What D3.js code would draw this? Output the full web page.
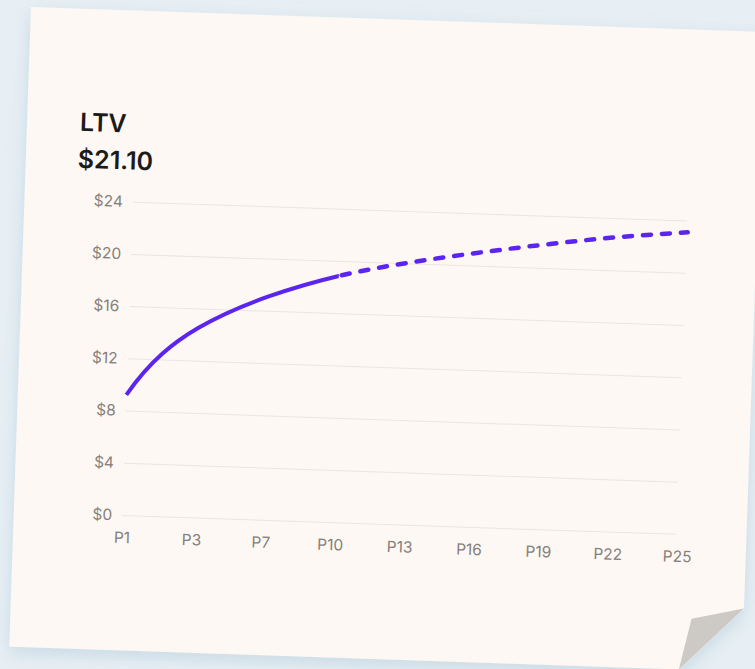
<!DOCTYPE html>
<html>
<head>
<meta charset="utf-8">
<script src="https://cdn.jsdelivr.net/npm/d3@7/dist/d3.min.js"></script>
<style>
  html, body { margin: 0; padding: 0; background: #e7eff4; }
  svg { display: block; }
</style>
</head>
<body>
<svg id="chart" width="755" height="669"></svg>
<script>
// ---- data ----
const categories = ["P1", "P3", "P7", "P10", "P13", "P16", "P19", "P22", "P25"];
const ltvValues = [9.2, 14.5, 17.1, 18.85, 20.05, 21.0, 21.83, 22.55, 23.1];
const actualCount = 4; // P1..P10 actual (solid), rest projected (dashed)
const yTicks = [0, 4, 8, 12, 16, 20, 24];
const titleLabel = "LTV";
const titleValue = "$21.10";

// ---- layout ----
const W = 755, H = 669;
const FONT = "Inter, 'Noto Sans', sans-serif";
const svg = d3.select("#chart");
const defs = svg.append("defs");
const f = defs.append("filter").attr("id", "shadow")
  .attr("x", "-10%").attr("y", "-10%").attr("width", "120%").attr("height", "125%");
f.append("feDropShadow").attr("dx", 0).attr("dy", 6).attr("stdDeviation", 9)
  .attr("flood-color", "#8fb0c8").attr("flood-opacity", 0.35);

svg.append("rect").attr("width", W).attr("height", H).attr("fill", "#e7eff4");

const paperW = 733, paperH = 640;
const g = svg.append("g").attr("transform", "translate(31,7) rotate(1.95)");

g.append("path")
  .attr("d", `M0,0 L${paperW},0 L${paperW},577 L670,${paperH} L0,${paperH} Z`)
  .attr("fill", "#fdf8f4")
  .attr("filter", "url(#shadow)");

g.append("path")
  .attr("d", `M${paperW},577 L681,589 L670,${paperH} Z`)
  .attr("fill", "#cdc9c4");

// ---- scales ----
const x = d3.scalePoint().domain(categories).range([108.5, 664]);
const y = d3.scaleLinear().domain([0, 24]).range([504.6, 191.1]);

// gridlines + y labels
const yAxis = g.append("g")
  .attr("transform", "translate(108.5,0)")
  .call(d3.axisLeft(y).tickValues(yTicks).tickSize(-(663 - 108.5)).tickPadding(10)
    .tickFormat(d => "$" + d));
yAxis.select(".domain").remove();
yAxis.selectAll(".tick line").attr("stroke", "#e9e5e0").attr("stroke-width", 1);
yAxis.selectAll(".tick text")
  .attr("fill", "#85807b")
  .style("font-family", FONT)
  .style("font-size", "15.5px");

// x labels
const xAxis = g.append("g")
  .attr("transform", `translate(0,${y(0)})`)
  .call(d3.axisBottom(x).tickSize(0).tickPadding(17));
xAxis.select(".domain").remove();
xAxis.selectAll(".tick text")
  .attr("fill", "#85807b")
  .style("font-family", FONT)
  .style("font-size", "15.5px");

// ---- smooth clamped cubic spline through the points (scale-mapped) ----
function splinePath(cats, vals, startSlope, endSlope) {
  const px = cats.map(c => x(c)), py = vals.map(v => y(v));
  const n = px.length - 1, h = x.step();
  const k = (y(1) - y(0)) / h; // value-per-step -> pixel slope
  const m = new Array(n + 1).fill(0);
  m[0] = startSlope * k; m[n] = endSlope * k;
  // tridiagonal solve for interior slopes
  const a = [], b = [], c = [], d = [];
  for (let i = 1; i < n; i++) {
    a.push(1); b.push(4); c.push(1);
    let r = 3 * (py[i + 1] - py[i - 1]) / h;
    if (i === 1) r -= m[0];
    if (i === n - 1) r -= m[n];
    d.push(r);
  }
  const N = d.length;
  for (let i = 1; i < N; i++) {
    const w = a[i] / b[i - 1];
    b[i] -= w * c[i - 1]; d[i] -= w * d[i - 1];
  }
  const sol = new Array(N);
  sol[N - 1] = d[N - 1] / b[N - 1];
  for (let i = N - 2; i >= 0; i--) sol[i] = (d[i] - c[i] * sol[i + 1]) / b[i];
  for (let i = 1; i < n; i++) m[i] = sol[i - 1];
  const p = d3.path();
  p.moveTo(px[0], py[0]);
  for (let i = 0; i < n; i++) {
    p.bezierCurveTo(px[i] + h / 3, py[i] + m[i] * h / 3,
                    px[i + 1] - h / 3, py[i + 1] - m[i + 1] * h / 3,
                    px[i + 1], py[i + 1]);
  }
  return p.toString();
}

const curveD = splinePath(categories, ltvValues, 8.2, 0.5);
const splitX = x(categories[actualCount - 1]);

defs.append("clipPath").attr("id", "clipActual")
  .append("rect").attr("x", 0).attr("y", 0).attr("width", splitX).attr("height", paperH);
defs.append("clipPath").attr("id", "clipProj")
  .append("rect").attr("x", splitX).attr("y", 0).attr("width", paperW - splitX).attr("height", paperH);

const dashed = g.append("path")
  .attr("d", curveD)
  .attr("fill", "none")
  .attr("stroke", "#5b24ef")
  .attr("stroke-width", 4.5)
  .attr("stroke-linecap", "round")
  .attr("stroke-dasharray", "8 11")
  .attr("clip-path", "url(#clipProj)");

const node = dashed.node();
const total = node.getTotalLength();
let lo = 0, hi = total;
for (let i = 0; i < 40; i++) {
  const mid = (lo + hi) / 2;
  if (node.getPointAtLength(mid).x < splitX) lo = mid; else hi = mid;
}
dashed.attr("stroke-dashoffset", -(lo + 3));

g.append("path")
  .attr("d", curveD)
  .attr("fill", "none")
  .attr("stroke", "#5b24ef")
  .attr("stroke-width", 4)
  .attr("stroke-linecap", "butt")
  .attr("clip-path", "url(#clipActual)");

// titles
g.append("text").attr("x", 53).attr("y", 122).text(titleLabel)
  .attr("fill", "#1c1b1a")
  .style("font-family", FONT)
  .style("font-weight", 600).style("font-size", "25px");
g.append("text").attr("x", 52).attr("y", 159).text(titleValue)
  .attr("fill", "#1c1b1a")
  .style("font-family", FONT)
  .style("font-weight", 600).style("font-size", "25px");
</script>
</body>
</html>
